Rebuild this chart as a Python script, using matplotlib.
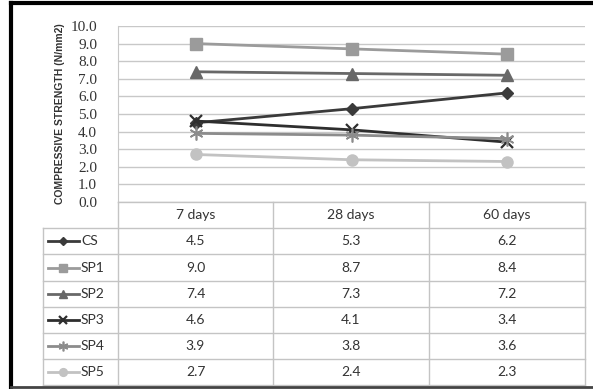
import matplotlib
matplotlib.use("Agg")
import matplotlib.pyplot as plt
from matplotlib.lines import Line2D

plt.rcParams["font.family"] = ["Lato", "DejaVu Sans"]

# data
ages = ["7 days", "28 days", "60 days"]
series_names = ["CS", "SP1", "SP2", "SP3", "SP4", "SP5"]
cs = [4.5, 5.3, 6.2]
sp1 = [9.0, 8.7, 8.4]
sp2 = [7.4, 7.3, 7.2]
sp3 = [4.6, 4.1, 3.4]
sp4 = [3.9, 3.8, 3.6]
sp5 = [2.7, 2.4, 2.3]
values = [cs, sp1, sp2, sp3, sp4, sp5]
y_ticks = [0, 1, 2, 3, 4, 5, 6, 7, 8, 9, 10]

# styles
STYLES = [
    dict(color="#3a3a3a", marker="D", ms=6, mew=1),
    dict(color="#9b9b9b", marker="s", ms=8, mew=1),
    dict(color="#686868", marker="^", ms=8, mew=1),
    dict(color="#2e2e2e", marker="x", ms=9, mew=1.6),
    dict(color="#8c8c8c", marker=(6, 2, 0), ms=10, mew=1.2),
    dict(color="#c2c2c2", marker="o", ms=8, mew=1),
]
GRID = "#c8c8c8"
W, H = 593, 389

fig = plt.figure(figsize=(W / 100, H / 100), dpi=100)

# pixel helper for the axes placement
def frac(x0, y0, x1, y1):
    return [x0 / W, 1 - y1 / H, (x1 - x0) / W, (y1 - y0) / H]

ax = fig.add_axes(frac(118, 26, 585, 202))
x = list(range(len(ages)))
for name, vals, st in zip(series_names, values, STYLES):
    ax.plot(x, vals, "-", lw=2, label=name, **st)
ax.set_xlim(-0.5, len(ages) - 0.5)
ax.set_ylim(0, 10)
ax.set_yticks(y_ticks)
ax.set_yticklabels([f"{v:.1f}" for v in y_ticks], fontsize=11, color="#333333",
                   family=["Liberation Serif", "DejaVu Serif"])
ax.set_xticks([])
ax.tick_params(axis="y", length=0, pad=15)
ax.grid(axis="y", color=GRID, lw=1)
ax.set_axisbelow(True)
for s in ["top", "right", "bottom"]:
    ax.spines[s].set_visible(False)
ax.spines["left"].set_color(GRID)
ax.set_ylabel("COMPRESSIVE STRENGTH (N/mm2)", fontsize=7.5, fontweight="bold",
              color="#333333", labelpad=4,
              family=["Liberation Sans Narrow", "Liberation Sans", "DejaVu Sans"])

# data table drawn on an overlay in pixel units
tab = fig.add_axes([0, 0, 1, 1])
tab.set_xlim(0, W)
tab.set_ylim(H, 0)
tab.axis("off")
tab.patch.set_alpha(0)

col_edges = [118, 273, 429, 585]
lab_left = 43
row_top = 202
row_h = 26.2
n_rows = len(series_names)
bottom = row_top + row_h * (n_rows + 1)
lc = "#c4c4c4"

# header row
tab.plot([col_edges[0], col_edges[-1]], [row_top, row_top], color=lc, lw=1)
for i in range(1, n_rows + 2):
    yy = row_top + row_h * i
    tab.plot([lab_left, col_edges[-1]], [yy, yy], color=lc, lw=1)
for xe in col_edges:
    tab.plot([xe, xe], [row_top, bottom], color=lc, lw=1)
tab.plot([lab_left, lab_left], [row_top + row_h, bottom], color=lc, lw=1)

for j, a in enumerate(ages):
    cx = (col_edges[j] + col_edges[j + 1]) / 2
    tab.text(cx, row_top + row_h / 2, a, ha="center", va="center",
             fontsize=10, color="#333333")

for i, (name, vals, st) in enumerate(zip(series_names, values, STYLES)):
    yy = row_top + row_h * (i + 1.5)
    tab.add_line(Line2D([48, 79], [yy, yy], lw=2, color=st["color"]))
    tab.add_line(Line2D([63], [yy], marker=st["marker"], color=st["color"],
                        ms=st["ms"] * 0.7, mew=st["mew"]))
    tab.text(81, yy, name, ha="left", va="center", fontsize=10, color="#333333")
    for j, v in enumerate(vals):
        cx = (col_edges[j] + col_edges[j + 1]) / 2
        tab.text(cx, yy, f"{v:.1f}", ha="center", va="center",
                 fontsize=10, color="#333333")

# outer frame like the source image
tab.plot([11, 11], [3, 387], color="black", lw=3)
tab.plot([11, W], [3, 3], color="black", lw=3)
tab.plot([11, W], [387, 387], color="#444444", lw=2)

fig.savefig("out.png", dpi=100)
plt.close(fig)
